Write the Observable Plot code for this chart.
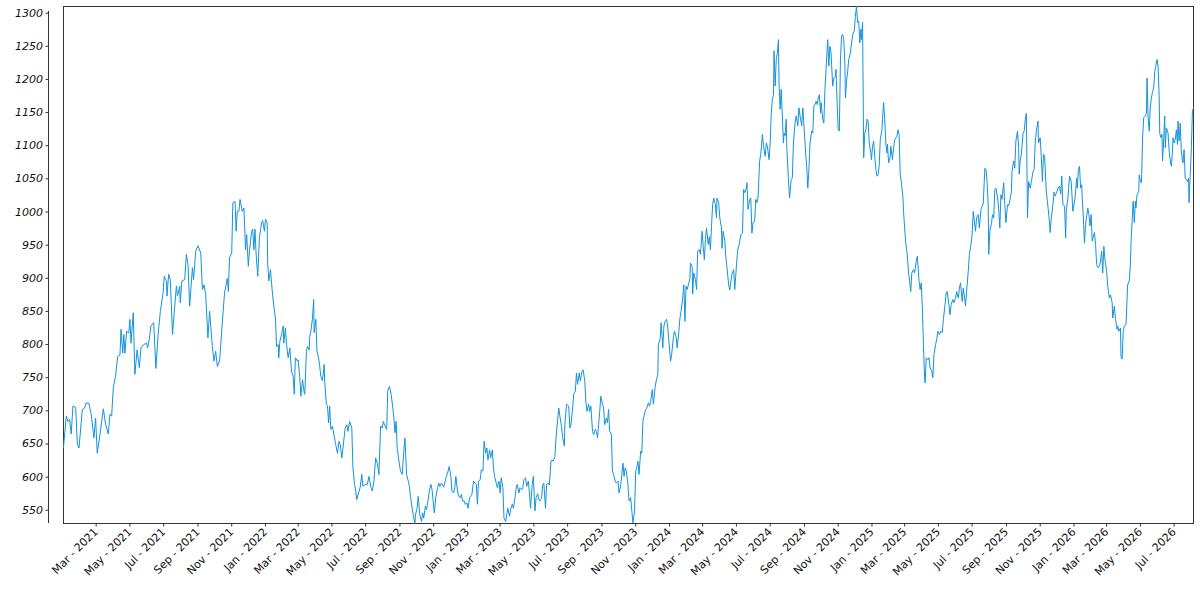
<!DOCTYPE html>
<html>
<head>
<meta charset="utf-8">
<script src="https://cdn.jsdelivr.net/npm/d3@7"></script>
<script src="https://cdn.jsdelivr.net/npm/@observablehq/plot@0.6"></script>
<style>
  html, body { margin: 0; padding: 0; background: #ffffff; }
  #chart { width: 1200px; height: 600px; }
</style>
</head>
<body>
<div id="chart"></div>
<script>
// Dates as "YYYY-DDD" (year - day of year)
const dates = [
"2021-001","2021-006","2021-009","2021-012","2021-015","2021-018","2021-023","2021-026","2021-029","2021-035","2021-039","2021-042","2021-047","2021-051","2021-056","2021-059","2021-062","2021-067","2021-073","2021-077","2021-082","2021-085","2021-088","2021-091","2021-095","2021-099","2021-103","2021-105","2021-108","2021-110","2021-112","2021-115","2021-119","2021-121","2021-123","2021-127","2021-130","2021-134","2021-138","2021-141","2021-146","2021-151","2021-153","2021-156","2021-159","2021-164","2021-168","2021-172","2021-176","2021-181","2021-183","2021-187","2021-188","2021-191","2021-194","2021-198","2021-202","2021-205","2021-207","2021-211","2021-212","2021-215","2021-220","2021-223","2021-226","2021-229","2021-234","2021-236","2021-240","2021-244","2021-249","2021-252","2021-255","2021-258","2021-262","2021-265","2021-270","2021-273","2021-276","2021-279","2021-283","2021-288","2021-292","2021-297","2021-299","2021-301","2021-305","2021-307","2021-311","2021-313","2021-315","2021-318","2021-320","2021-324","2021-327","2021-330","2021-332","2021-335","2021-337","2021-341","2021-343","2021-345","2021-347","2021-349","2021-352","2021-355","2021-359","2021-361","2021-364",
"2022-001","2022-004","2022-005","2022-007","2022-010","2022-012","2022-013","2022-016","2022-019","2022-021","2022-024","2022-025","2022-027","2022-030","2022-033","2022-034","2022-037","2022-039","2022-042","2022-045","2022-048","2022-051","2022-053","2022-055","2022-059","2022-060","2022-063","2022-065","2022-068","2022-071","2022-072","2022-075","2022-077","2022-080","2022-081","2022-083","2022-086","2022-088","2022-089","2022-092","2022-094","2022-097","2022-099","2022-101","2022-104","2022-107","2022-108","2022-111","2022-113","2022-115","2022-117","2022-119","2022-122","2022-125","2022-128","2022-131","2022-134","2022-136","2022-139","2022-141","2022-145","2022-148","2022-150","2022-153","2022-157","2022-159","2022-162","2022-164","2022-166","2022-169","2022-172","2022-175","2022-177","2022-181","2022-185","2022-188","2022-191","2022-194","2022-197","2022-200","2022-203","2022-206","2022-209","2022-212","2022-214","2022-217","2022-220","2022-222","2022-225","2022-228","2022-230","2022-233","2022-235","2022-237","2022-239","2022-242","2022-245","2022-248","2022-251","2022-253","2022-256","2022-259","2022-261","2022-263","2022-266","2022-268","2022-271","2022-272","2022-275","2022-277","2022-280","2022-283","2022-285","2022-287","2022-290","2022-292","2022-295","2022-297","2022-300","2022-302","2022-304","2022-306","2022-309","2022-312","2022-314","2022-316","2022-319","2022-323","2022-325","2022-327","2022-330","2022-333","2022-336","2022-338","2022-341","2022-343","2022-345","2022-348","2022-350","2022-353","2022-355","2022-357","2022-360","2022-362","2022-365",
"2023-002","2023-005","2023-007","2023-009","2023-012","2023-014","2023-017","2023-019","2023-021","2023-024","2023-026","2023-029","2023-031","2023-034","2023-036","2023-038","2023-041","2023-043","2023-046","2023-048","2023-050","2023-053","2023-055","2023-058","2023-060","2023-062","2023-065","2023-067","2023-070","2023-072","2023-074","2023-077","2023-079","2023-082","2023-084","2023-087","2023-089","2023-091","2023-094","2023-096","2023-099","2023-101","2023-103","2023-106","2023-108","2023-111","2023-113","2023-115","2023-118","2023-120","2023-123","2023-125","2023-128","2023-130","2023-132","2023-135","2023-137","2023-139","2023-142","2023-144","2023-147","2023-149","2023-152","2023-154","2023-156","2023-159","2023-161","2023-164","2023-166","2023-168","2023-171","2023-173","2023-176","2023-177","2023-180","2023-184","2023-186","2023-188","2023-191","2023-193","2023-196","2023-198","2023-200","2023-203","2023-205","2023-208","2023-210","2023-213","2023-215","2023-217","2023-220","2023-222","2023-224","2023-227","2023-229","2023-232","2023-234","2023-236","2023-238","2023-240","2023-242","2023-244","2023-247","2023-249","2023-252","2023-254","2023-256","2023-258","2023-261","2023-263","2023-265","2023-268","2023-270","2023-273","2023-275","2023-278","2023-280","2023-282","2023-284","2023-286","2023-288","2023-291","2023-293","2023-296","2023-298","2023-300","2023-303","2023-305","2023-307","2023-309","2023-311","2023-314","2023-316","2023-318","2023-320","2023-323","2023-325","2023-328","2023-330","2023-332","2023-335","2023-337","2023-340","2023-342","2023-345","2023-346","2023-349","2023-351","2023-354","2023-356","2023-358","2023-361","2023-363","2023-365",
"2024-003","2024-005","2024-008","2024-010","2024-013","2024-015","2024-018","2024-020","2024-022","2024-025","2024-027","2024-029","2024-031","2024-033","2024-036","2024-038","2024-039","2024-042","2024-043","2024-045","2024-048","2024-050","2024-052","2024-055","2024-057","2024-060","2024-062","2024-064","2024-066","2024-068","2024-071","2024-073","2024-075","2024-077","2024-079","2024-081","2024-084","2024-086","2024-087","2024-090","2024-092","2024-095","2024-096","2024-098","2024-101","2024-103","2024-105","2024-108","2024-110","2024-112","2024-114","2024-117","2024-119","2024-122","2024-124","2024-127","2024-130","2024-133","2024-135","2024-137","2024-140","2024-141","2024-143","2024-146","2024-148","2024-150","2024-152","2024-155","2024-157","2024-159","2024-161","2024-164","2024-166","2024-169","2024-171","2024-174","2024-176","2024-178","2024-181","2024-183","2024-185","2024-187","2024-189","2024-190","2024-192","2024-194","2024-196","2024-198","2024-199","2024-201","2024-203","2024-205","2024-207","2024-208","2024-210","2024-212","2024-213","2024-216","2024-218","2024-221","2024-223","2024-225","2024-228","2024-230","2024-233","2024-235","2024-237","2024-240","2024-242","2024-245","2024-247","2024-249","2024-251","2024-253","2024-255","2024-258","2024-260","2024-262","2024-264","2024-266","2024-268","2024-270","2024-272","2024-274","2024-275","2024-278","2024-280","2024-282","2024-284","2024-287","2024-289","2024-291","2024-293","2024-296","2024-298","2024-301","2024-302","2024-304","2024-306","2024-308","2024-310","2024-312","2024-314","2024-316","2024-318","2024-319","2024-321","2024-323","2024-325","2024-328","2024-330","2024-333","2024-335","2024-337","2024-339","2024-341","2024-343","2024-345","2024-347","2024-348","2024-350","2024-352","2024-354","2024-356","2024-358","2024-360","2024-362","2024-365","2024-366",
"2025-002","2025-004","2025-006","2025-008","2025-010","2025-012","2025-014","2025-016","2025-019","2025-020","2025-022","2025-024","2025-026","2025-028","2025-029","2025-031","2025-034","2025-035","2025-038","2025-040","2025-042","2025-046","2025-048","2025-050","2025-052","2025-054","2025-057","2025-058","2025-060","2025-062","2025-064","2025-066","2025-067","2025-069","2025-071","2025-073","2025-076","2025-078","2025-081","2025-083","2025-086","2025-088","2025-090","2025-092","2025-094","2025-096","2025-097","2025-099","2025-102","2025-104","2025-106","2025-109","2025-111","2025-113","2025-116","2025-118","2025-120","2025-123","2025-125","2025-128","2025-130","2025-133","2025-135","2025-137","2025-140","2025-142","2025-144","2025-147","2025-149","2025-152","2025-154","2025-157","2025-159","2025-161","2025-164","2025-166","2025-169","2025-170","2025-172","2025-175","2025-177","2025-180","2025-182","2025-184","2025-186","2025-188","2025-190","2025-193","2025-195","2025-198","2025-200","2025-202","2025-205","2025-207","2025-209","2025-211","2025-212","2025-214","2025-217","2025-219","2025-221","2025-223","2025-225","2025-228","2025-230","2025-232","2025-234","2025-236","2025-239","2025-241","2025-243","2025-246","2025-248","2025-251","2025-253","2025-254","2025-257","2025-259","2025-261","2025-264","2025-266","2025-267","2025-269","2025-271","2025-274","2025-276","2025-278","2025-280","2025-282","2025-284","2025-287","2025-289","2025-292","2025-294","2025-296","2025-298","2025-301","2025-302","2025-305","2025-307","2025-309","2025-311","2025-313","2025-316","2025-318","2025-321","2025-323","2025-325","2025-328","2025-330","2025-332","2025-335","2025-337","2025-340","2025-342","2025-344","2025-346","2025-349","2025-351","2025-352","2025-355","2025-358","2025-361","2025-364","2025-365",
"2026-003","2026-006","2026-007","2026-009","2026-011","2026-013","2026-015","2026-016","2026-018","2026-020","2026-022","2026-024","2026-026","2026-028","2026-030","2026-032","2026-034","2026-036","2026-038","2026-040","2026-042","2026-044","2026-047","2026-049","2026-051","2026-053","2026-055","2026-057","2026-060","2026-062","2026-065","2026-067","2026-070","2026-071","2026-074","2026-076","2026-079","2026-080","2026-082","2026-085","2026-086","2026-088","2026-090","2026-092","2026-095","2026-098","2026-101","2026-103","2026-104","2026-106","2026-108","2026-110","2026-112","2026-113","2026-115","2026-118","2026-119","2026-121","2026-123","2026-125","2026-126","2026-127","2026-130","2026-132","2026-133","2026-135","2026-137","2026-139","2026-141","2026-143","2026-145","2026-147","2026-149","2026-151","2026-153","2026-155","2026-156","2026-158","2026-160","2026-161","2026-163","2026-165","2026-166","2026-168","2026-171","2026-173","2026-175","2026-177","2026-179","2026-180","2026-182","2026-184","2026-186","2026-188","2026-189","2026-191","2026-193","2026-195","2026-197","2026-198","2026-200","2026-202","2026-204","2026-206","2026-208","2026-209","2026-211","2026-213","2026-215","2026-217"
];

const values = [
645,692,684,687,665,707,705,650,644,702,704,712,711,695,659,689,636,665,703,680,665,695,692,735,752,782,784,823,787,815,787,820,817,838,802,848,755,792,765,795,800,802,795,808,828,833,764,815,850,878,903,896,873,906,898,815,858,888,873,888,863,896,898,936,921,858,916,898,941,949,938,883,890,875,810,850,797,775,790,767,775,833,878,900,880,931,938,1014,1016,971,1001,1001,1019,1001,1006,943,966,918,941,971,974,943,974,938,903,961,984,987,971,
989,984,923,896,913,893,883,858,840,797,800,780,805,815,828,802,825,800,780,795,760,752,725,780,775,777,750,722,747,727,725,790,797,792,812,820,840,868,818,838,790,780,767,752,745,770,745,710,708,682,707,672,677,662,649,636,654,649,629,644,674,679,669,684,674,614,589,579,566,576,584,604,586,589,589,601,586,579,594,629,621,604,677,674,684,677,672,730,737,725,712,690,667,684,644,625,609,604,639,659,604,594,586,571,553,543,530,543,553,571,543,533,546,538,556,551,566,579,589,581,564,546,571,584,591,586,591,585,591,599,606,616,601,579,576,584,601,579,571,569,574,564,564,559,561,
553,569,571,574,594,591,589,559,594,596,611,609,654,636,644,626,641,629,641,614,601,591,584,594,576,599,584,538,533,543,553,541,551,559,553,569,584,589,576,584,581,584,596,599,586,594,576,553,589,601,549,569,575,566,564,569,589,591,553,589,591,588,624,626,624,631,659,687,704,692,676,660,647,679,710,707,674,679,704,725,730,757,740,757,745,760,762,745,714,699,710,699,707,669,664,672,669,659,679,699,722,714,704,679,689,682,702,669,665,609,604,594,591,594,576,589,604,621,601,614,609,589,564,569,549,531,549,609,614,624,604,639,636,684,692,702,704,712,707,714,732,710,735,745,755,800,808,833,795,828,835,838,825,805,
775,785,810,820,812,795,820,840,850,870,890,835,888,883,893,900,923,918,876,908,898,883,941,943,936,971,948,928,958,976,951,963,943,978,1011,1021,1011,991,1021,1014,991,976,945,971,956,931,916,890,882,896,906,913,883,918,941,951,966,968,1034,1029,1036,1044,1004,1019,1021,968,984,986,1019,1014,1021,1077,1087,1117,1099,1084,1104,1099,1079,1104,1149,1170,1177,1243,1190,1230,1240,1260,1195,1155,1185,1145,1104,1119,1115,1140,1099,1049,1021,1049,1051,1104,1134,1145,1130,1157,1145,1130,1157,1119,1089,1069,1036,1064,1104,1122,1119,1160,1162,1167,1162,1172,1177,1149,1165,1140,1134,1185,1215,1260,1220,1250,1240,1190,1202,1205,1215,1165,1124,1122,1230,1265,1268,1260,1225,1172,1197,1212,1230,1240,1255,1270,1273,1295,1310,1286,1288,1255,1276,1260,1286,1082,1119,1124,1140,1137,1104,1089,1079,
1099,1107,1084,1064,1054,1056,1069,1109,1124,1140,1165,1140,1104,1089,1102,1074,1084,1099,1079,1097,1109,1114,1124,1117,1057,1046,1021,1001,976,953,941,921,908,896,880,908,913,908,926,933,896,883,893,855,800,750,742,780,777,780,765,760,750,785,800,808,820,815,820,818,838,860,878,880,860,845,860,868,863,870,880,870,885,893,865,885,865,858,880,911,936,951,966,1001,986,971,991,996,976,1004,1009,1012,1066,1064,1046,1011,936,971,984,996,991,1034,1036,1021,1004,976,1026,1019,1044,1011,984,1011,1009,1021,1031,1061,1077,1066,1107,1122,1097,1057,1079,1087,1119,1122,1140,1149,991,1046,1036,1046,1061,1064,1104,1122,1137,1104,1112,1082,1046,1087,1084,1031,1016,991,969,991,1011,1030,1024,1030,1036,1039,1027,1054,1011,1009,961,1001,1021,1054,1046,1001,1006,
1021,1051,1036,1064,1069,1036,1041,1021,991,953,981,994,1006,996,979,996,956,963,969,951,921,916,918,926,941,908,948,928,911,888,870,875,863,840,858,838,823,828,820,825,782,778,820,828,830,890,896,921,951,986,1016,984,1016,1006,1026,1031,1056,1046,1044,1112,1127,1142,1145,1149,1202,1142,1122,1160,1172,1182,1187,1212,1220,1230,1220,1172,1119,1112,1117,1077,1107,1145,1097,1127,1119,1092,1077,1069,1092,1112,1104,1109,1124,1102,1137,1107,1134,1092,1077,1074,1094,1051,1049,1046,1051,1014,1056,1092,1152,1157
];

const yTicks = [550, 600, 650, 700, 750, 800, 850, 900, 950, 1000, 1050, 1100, 1150, 1200, 1250, 1300];

const xTickMonths = [
"2021-03","2021-05","2021-07","2021-09","2021-11",
"2022-01","2022-03","2022-05","2022-07","2022-09","2022-11",
"2023-01","2023-03","2023-05","2023-07","2023-09","2023-11",
"2024-01","2024-03","2024-05","2024-07","2024-09","2024-11",
"2025-01","2025-03","2025-05","2025-07","2025-09","2025-11",
"2026-01","2026-03","2026-05","2026-07"
];

const lineColor = "#1493dc";

const parseDay = d3.utcParse("%Y-%j");
const parseMonth = d3.utcParse("%Y-%m");
const data = dates.map((d, i) => ({date: parseDay(d), value: values[i]}));
const xTicks = xTickMonths.map(parseMonth);

// offset left axis line (spine moved outward)
const yAxisLine = (index, scales, channels, dims) => {
  const x = dims.marginLeft - 14.5;
  return d3.create("svg:line")
    .attr("x1", x).attr("x2", x)
    .attr("y1", dims.marginTop + 5)
    .attr("y2", dims.height - dims.marginBottom)
    .attr("stroke", "#333")
    .attr("stroke-width", 1)
    .node();
};

const chart = Plot.plot({
  width: 1200,
  height: 600,
  marginLeft: 63,
  marginRight: 7,
  marginTop: 6,
  marginBottom: 77,
  style: {fontFamily: "DejaVu Sans", fontSize: "11px", color: "#111", background: "#ffffff", overflow: "visible"},
  x: {type: "utc", domain: d3.extent(data, d => d.date)},
  y: {domain: d3.extent(values)},
  marks: [
    Plot.frame({stroke: "#333"}),
    Plot.line(data, {x: "date", y: "value", stroke: lineColor, strokeWidth: 1}),
    Plot.axisY({ticks: yTicks, tickSize: 3.5, tickPadding: 3, dx: -14, fontStyle: "italic", tickFormat: d => String(d), label: null, stroke: "#333"}),
    Plot.axisX({ticks: xTicks, tickFormat: d3.utcFormat("%b - %Y"), tickRotate: -45, textAnchor: "end", tickSize: 3.5, tickPadding: 3, label: null, stroke: "#333"}),
    yAxisLine
  ]
});

document.getElementById("chart").appendChild(chart);
</script>
</body>
</html>
